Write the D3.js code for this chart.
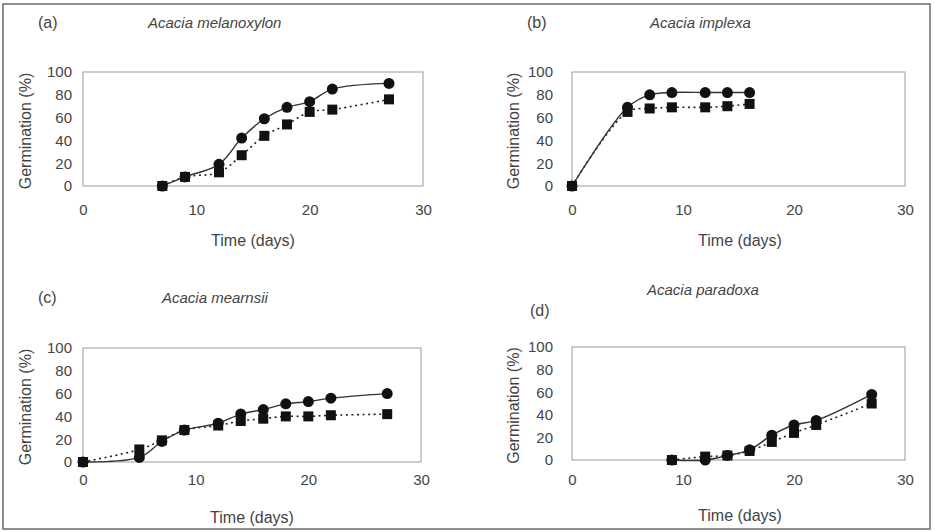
<!DOCTYPE html>
<html>
<head>
<meta charset="utf-8">
<script src="https://cdn.jsdelivr.net/npm/d3@7"></script>
<style>
  html, body { margin: 0; padding: 0; background: #fff; }
  svg { display: block; }
  text { font-family: "Liberation Sans", Arial, sans-serif; fill: #444; }
</style>
</head>
<body>
<svg id="chart" width="935" height="532"></svg>
<script>
// ---- Data ----
const panelLabels = ["(a)", "(b)", "(c)", "(d)"];
const speciesNames = ["Acacia melanoxylon", "Acacia implexa", "Acacia mearnsii", "Acacia paradoxa"];
const xTicks = [0, 10, 20, 30];
const yTicks = [0, 20, 40, 60, 80, 100];

const daysA    = [7, 9, 12, 14, 16, 18, 20, 22, 27];
const circlesA = [0, 8, 19, 42, 59, 69, 74, 85, 90];
const squaresA = [0, 8, 12, 27, 44, 54, 65, 67, 76];

const daysB    = [0, 5, 7, 9, 12, 14, 16];
const circlesB = [0, 69, 80, 82, 82, 82, 82];
const squaresB = [0, 65, 68, 69, 69, 70, 72];

const daysC    = [0, 5, 7, 9, 12, 14, 16, 18, 20, 22, 27];
const circlesC = [0, 4, 18, 28, 34, 42, 46, 51, 53, 56, 60];
const squaresC = [0, 11, 19, 28, 32, 36, 38, 40, 40, 41, 42];

const daysD    = [9, 12, 14, 16, 18, 20, 22, 27];
const circlesD = [0, 0, 4, 9, 22, 31, 35, 58];
const squaresD = [0, 3, 4, 8, 16, 24, 31, 50];

const panelData = [
  { days: daysA, circles: circlesA, squares: squaresA },
  { days: daysB, circles: circlesB, squares: squaresB },
  { days: daysC, circles: circlesC, squares: squaresC },
  { days: daysD, circles: circlesD, squares: squaresD }
];

// ---- Layout (positions only) ----
const layout = [
  { x: [83, 423], y: [186, 72], yLab: 72, yTitleX: 25, xLabY: 212, timeX: 253, timeY: 240, lab: [38, 22], title: [148, 22] },
  { x: [572, 905], y: [186, 72], yLab: 553, yTitleX: 513, xLabY: 212, timeX: 740, timeY: 240, lab: [527, 22], title: [650, 22] },
  { x: [83, 421], y: [462, 348], yLab: 72, yTitleX: 25, xLabY: 482, timeX: 252, timeY: 517, lab: [38, 297], title: [162, 297] },
  { x: [572, 905], y: [460, 347], yLab: 553, yTitleX: 513, xLabY: 482, timeX: 740, timeY: 515, lab: [530, 310], title: [647, 289] }
];

const svg = d3.select("#chart");

// outer frame
svg.append("rect")
  .attr("x", 3).attr("y", 4).attr("width", 927).attr("height", 525)
  .attr("fill", "none").attr("stroke", "#6a6a6a").attr("stroke-width", 1.5);

panelData.forEach((d, i) => {
  const L = layout[i];
  const x = d3.scaleLinear().domain([0, 30]).range(L.x);
  const y = d3.scaleLinear().domain([0, 100]).range(L.y);
  const g = svg.append("g");

  // plot frame
  g.append("rect")
    .attr("x", L.x[0]).attr("y", L.y[1])
    .attr("width", L.x[1] - L.x[0]).attr("height", L.y[0] - L.y[1])
    .attr("fill", "none").attr("stroke", "#9a9a9a").attr("stroke-width", 1);

  // y axis tick labels
  const yAxis = d3.axisLeft(y).tickValues(yTicks).tickSize(0).tickPadding(0);
  const ya = g.append("g").attr("transform", `translate(${L.yLab},0)`).call(yAxis);
  ya.select(".domain").remove();
  ya.selectAll("text").attr("font-size", 15).attr("fill", "#444")
    .attr("font-family", '"Liberation Sans", Arial, sans-serif');

  // x axis tick labels
  const xAxis = d3.axisBottom(x).tickValues(xTicks).tickSize(0).tickPadding(0);
  const xa = g.append("g").attr("transform", `translate(0,${L.xLabY - 8})`).call(xAxis);
  xa.select(".domain").remove();
  xa.selectAll("text").attr("font-size", 15).attr("fill", "#444")
    .attr("font-family", '"Liberation Sans", Arial, sans-serif');

  // axis titles
  g.append("text")
    .attr("transform", `translate(${L.yTitleX},${(L.y[0] + L.y[1]) / 2 + 2}) rotate(-90)`)
    .attr("text-anchor", "middle").attr("dominant-baseline", "central")
    .attr("font-size", 16).text("Germination (%)");
  g.append("text")
    .attr("x", L.timeX).attr("y", L.timeY)
    .attr("text-anchor", "middle").attr("dominant-baseline", "central")
    .attr("font-size", 16).text("Time (days)");

  // panel label and species title
  g.append("text").attr("x", L.lab[0]).attr("y", L.lab[1])
    .attr("dominant-baseline", "central").attr("font-size", 16).attr("fill", "#333")
    .text(panelLabels[i]);
  g.append("text").attr("x", L.title[0]).attr("y", L.title[1])
    .attr("dominant-baseline", "central").attr("font-size", 15).attr("font-style", "italic")
    .text(speciesNames[i]);

  const circPts = d.days.map((t, k) => [t, d.circles[k]]);
  const sqPts = d.days.map((t, k) => [t, d.squares[k]]);
  const line = d3.line().x(p => x(p[0])).y(p => y(p[1])).curve(d3.curveCatmullRom.alpha(0.5));

  g.append("path").attr("d", line(sqPts))
    .attr("fill", "none").attr("stroke", "#222").attr("stroke-width", 1.6)
    .attr("stroke-dasharray", "2,3.5");
  g.append("path").attr("d", line(circPts))
    .attr("fill", "none").attr("stroke", "#333").attr("stroke-width", 1.4);

  g.selectAll("circle.c").data(circPts).enter().append("circle")
    .attr("cx", p => x(p[0])).attr("cy", p => y(p[1])).attr("r", 5.5)
    .attr("fill", "#111");
  const s = 10;
  g.selectAll("rect.s").data(sqPts).enter().append("rect")
    .attr("x", p => x(p[0]) - s / 2).attr("y", p => y(p[1]) - s / 2)
    .attr("width", s).attr("height", s).attr("fill", "#111");
});
</script>
</body>
</html>
